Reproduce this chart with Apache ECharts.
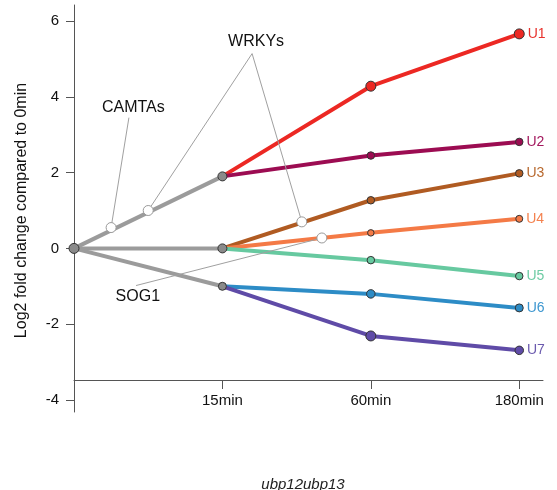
<!DOCTYPE html>
<html>
<head>
<meta charset="utf-8">
<script src="https://cdn.jsdelivr.net/npm/echarts@6/dist/echarts.min.js"></script>
<style>html,body{margin:0;padding:0;background:#fff;}#c{width:557px;height:490px;}</style>
</head>
<body>
<div id="c"></div>
<script>
// ---- data ----
const timeLabels = ['', '15min', '60min', '180min'];
const timeX = [0, 1, 2, 3];
// gray early trajectories (0min -> 15min)
const grayUpper = [0, 1.9];
const grayMid = [0, 0];
const grayLower = [0, -1.0];
// cluster names and values at 15min, 60min, 180min
const clusterNames = ['U1', 'U2', 'U3', 'U4', 'U5', 'U6', 'U7'];
const U1 = [1.9, 4.28, 5.66];
const U2 = [1.9, 2.45, 2.81];
const U3 = [0, 1.27, 1.98];
const U4 = [0, 0.41, 0.78];
const U5 = [0, -0.31, -0.73];
const U6 = [-1.0, -1.2, -1.57];
const U7 = [-1.0, -2.31, -2.69];
// annotated genes (time position, value)
const annotX = [0.25, 0.5, 1.535, 1.67];
const annotY = [0.55, 1.0, 0.7, 0.275];
const annotNames = ['CAMTAs', 'WRKYs', 'SOG1'];
const annotLabelX = [0.40, 1.227, 0.43];
const annotLabelY = [3.72, 5.45, -1.27];
const leaderStartX = [0.37, 1.20, 0.418];
const leaderStartY = [3.45, 5.14, -0.98];
const leaderTargets = [[0], [1, 2], [3]];

// ---- styles ----
const FONT = '"Liberation Sans", Arial, sans-serif';
const lineColors = ['#ec2823', '#9c0c52', '#b05b22', '#f47a46', '#67c9a0', '#2d8cc6', '#5f4ba7'];
const labelColors = ['#e8322d', '#a3185e', '#b8692f', '#f4824f', '#6fcca5', '#3d97d0', '#6b5aae'];
const symbolSizes = [[0, 10, 10], [0, 7.5, 7.5], [0, 7.5, 7.5], [0, 6.5, 7], [0, 7.5, 7.5], [0, 8.5, 8], [0, 10, 8.5]];
const grayColor = '#9b9b9b';
const clusters = [U1, U2, U3, U4, U5, U6, U7];

const series = [];
[grayUpper, grayMid, grayLower].forEach(arr => {
  series.push({
    type: 'line', xAxisIndex: 0, yAxisIndex: 0, silent: true,
    data: arr.map((v, i) => [timeX[i], v]),
    showSymbol: false, symbol: 'none',
    lineStyle: { color: grayColor, width: 4 }, z: 3
  });
});
clusters.forEach((arr, k) => {
  series.push({
    type: 'line', name: clusterNames[k], xAxisIndex: 0, yAxisIndex: 0, silent: true,
    data: arr.map((v, i) => {
      const item = { value: [timeX[i + 1], v], symbolSize: symbolSizes[k][i] };
      if (i === arr.length - 1) {
        item.label = {
          show: true, position: 'right', distance: 3, formatter: clusterNames[k],
          color: labelColors[k], fontSize: 14, fontFamily: FONT
        };
      }
      return item;
    }),
    symbol: 'circle', showAllSymbol: true,
    itemStyle: { color: lineColors[k], borderColor: '#333', borderWidth: 1, opacity: 1 },
    lineStyle: { color: lineColors[k], width: 4 }, z: 4
  });
});
// gray nodes
series.push({
  type: 'scatter', xAxisIndex: 0, yAxisIndex: 0, silent: true,
  data: [
    { value: [timeX[0], grayMid[0]], symbolSize: 10 },
    { value: [timeX[1], grayUpper[1]], symbolSize: 9 },
    { value: [timeX[1], grayMid[1]], symbolSize: 9 },
    { value: [timeX[1], grayLower[1]], symbolSize: 8 }
  ],
  itemStyle: { color: '#8a8a8a', borderColor: '#333', borderWidth: 1, opacity: 1 }, z: 6
});
// leader lines
leaderTargets.forEach((targets, j) => {
  targets.forEach(t => {
    series.push({
      type: 'line', xAxisIndex: 0, yAxisIndex: 0, silent: true, symbol: 'none',
      data: [[leaderStartX[j], leaderStartY[j]], [annotX[t], annotY[t]]],
      lineStyle: { color: '#a0a0a0', width: 1 }, z: 5
    });
  });
});
// annotation open circles
series.push({
  type: 'scatter', xAxisIndex: 0, yAxisIndex: 0, silent: true,
  data: annotX.map((x, i) => [x, annotY[i]]), symbolSize: 10,
  itemStyle: { color: '#fff', borderColor: '#9a9a9a', borderWidth: 1, opacity: 1 }, z: 7
});
// annotation labels
series.push({
  type: 'scatter', xAxisIndex: 0, yAxisIndex: 0, silent: true,
  data: annotNames.map((n, i) => ({ value: [annotLabelX[i], annotLabelY[i]], name: n })),
  symbolSize: 0,
  itemStyle: { opacity: 1 },
  label: { show: true, position: 'inside', formatter: p => p.name, color: '#111', opacity: 1, fontSize: 16, fontFamily: FONT },
  z: 8
});

const option = {
  animation: false,
  backgroundColor: '#fff',
  title: {
    text: 'ubp12ubp13', left: 298, top: 472, textAlign: 'center',
    textStyle: { fontStyle: 'italic', fontWeight: 'normal', fontSize: 15, color: '#222', fontFamily: FONT }
  },
  grid: [
    { left: 74, right: 14, top: 21, bottom: 90 },
    { left: 74, right: 14, top: 5, bottom: 78 }
  ],
  xAxis: [
    {
      type: 'value', gridIndex: 0, min: 0, max: 3.16, interval: 1, offset: -20,
      axisLine: { onZero: false, lineStyle: { color: '#555', width: 1 } },
      axisTick: { show: true, length: 9, lineStyle: { color: '#555' } },
      axisLabel: { formatter: v => timeLabels[Math.round(v)] || '', margin: 13, color: '#111', fontSize: 15, fontFamily: FONT, showMaxLabel: false },
      splitLine: { show: false }
    },
    { type: 'value', gridIndex: 1, min: 0, max: 1, show: false }
  ],
  yAxis: [
    {
      type: 'value', gridIndex: 0, min: -4, max: 6, interval: 2,
      name: 'Log2 fold change compared to 0min', nameLocation: 'middle', nameGap: 44,
      nameTextStyle: { color: '#111', fontSize: 16, fontFamily: FONT },
      axisLine: { show: false },
      axisTick: { show: true, length: 8, lineStyle: { color: '#555' } },
      axisLabel: { margin: 15, color: '#111', fontSize: 15, fontFamily: FONT },
      splitLine: { show: false }
    },
    {
      type: 'value', gridIndex: 1, min: 0, max: 1,
      axisLine: { show: true, onZero: false, lineStyle: { color: '#555', width: 1 } },
      axisTick: { show: false }, axisLabel: { show: false }, splitLine: { show: false }
    }
  ],
  series: series
};
const chart = echarts.init(document.getElementById('c'), null, { renderer: 'canvas' });
chart.setOption(option);
</script>
</body>
</html>
